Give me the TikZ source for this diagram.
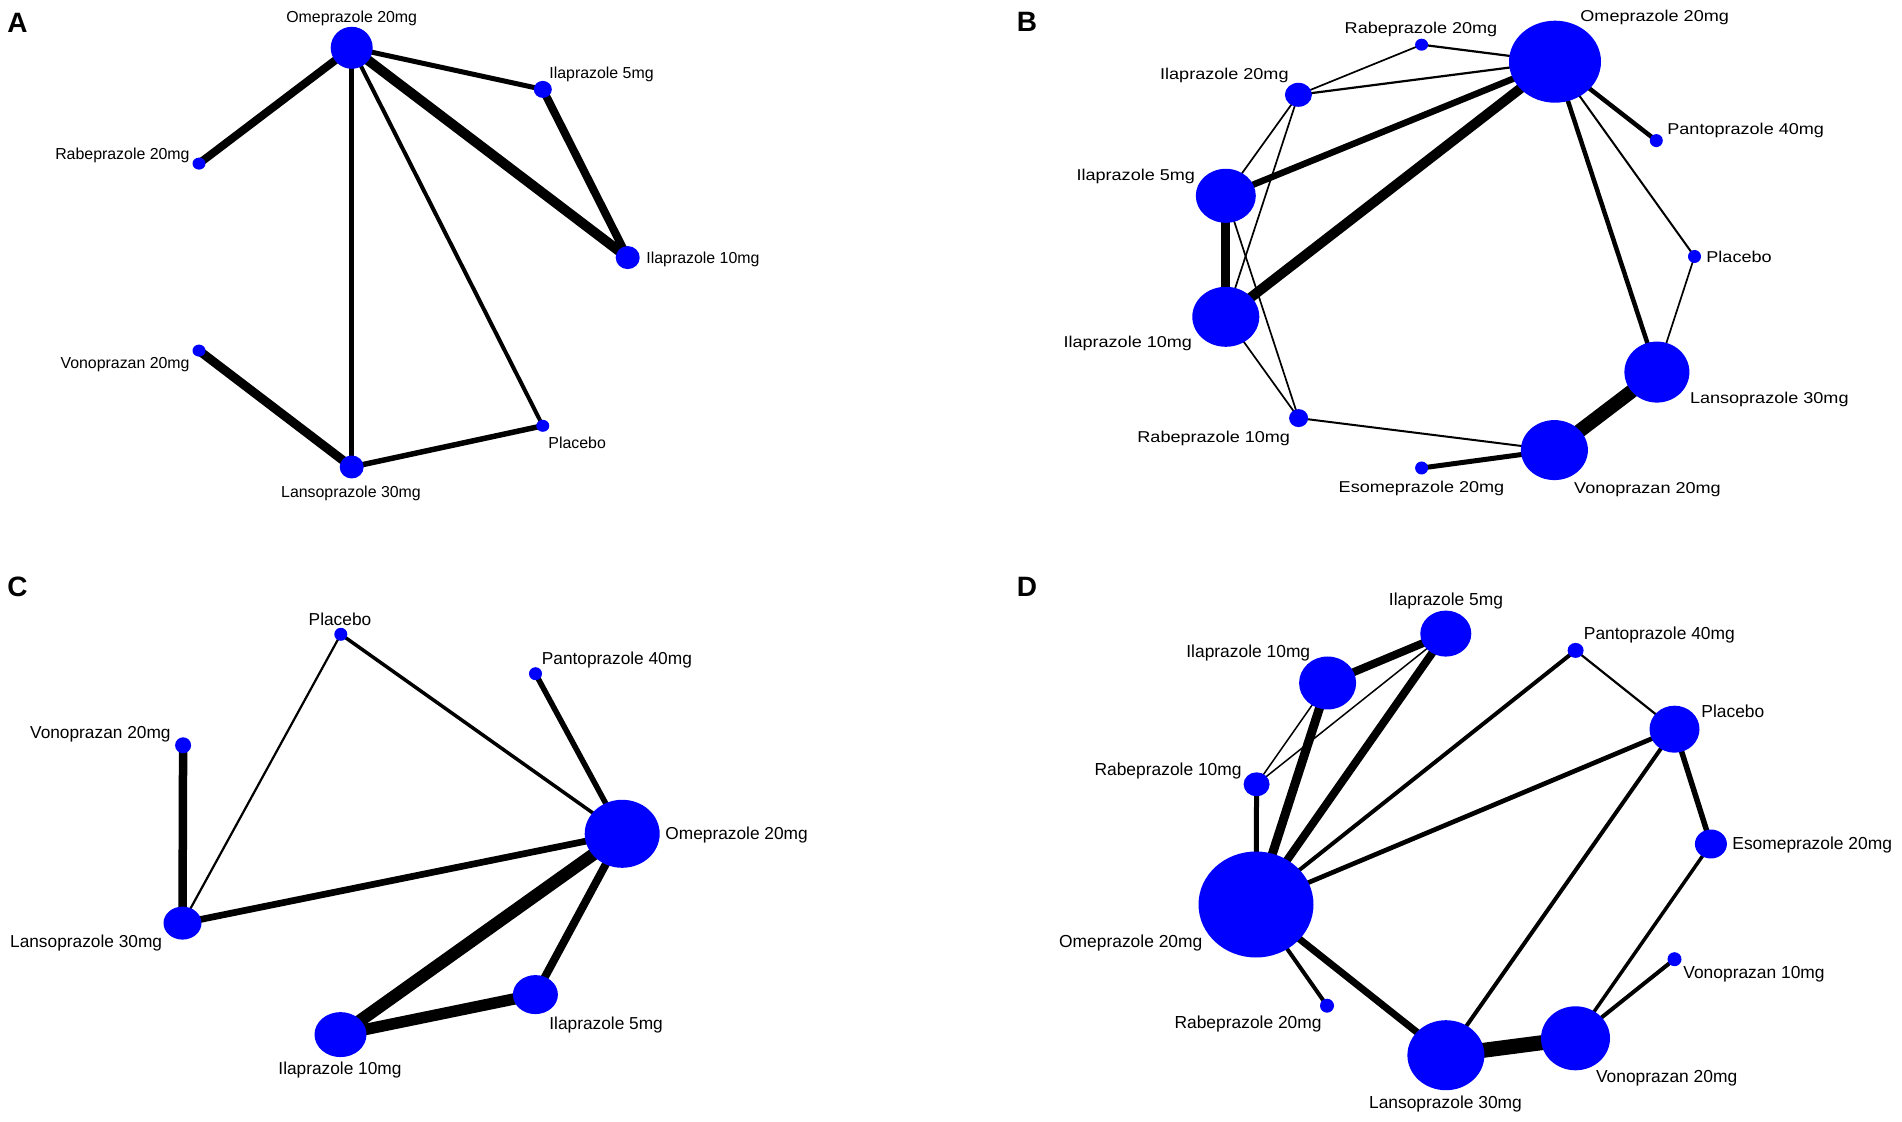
\documentclass[tikz,border=0pt]{standalone}
\usepackage{fontspec}
\setmainfont{Liberation Sans}
\newfontfamily\widesans[FakeStretch=1.15]{Liberation Sans}
\usetikzlibrary{shapes}
\usetikzlibrary{backgrounds}

\tikzset{
  trt/.style={ellipse, fill=blue, draw=none, inner sep=0pt},
  sz/.style 2 args={minimum width=#1*0.5pt, minimum height=#2*0.5pt},
  lbl/.style={inner sep=0pt},
  lblA/.style={lbl, font=\fontsize{7.95}{9}\selectfont},
  lblB/.style={lbl, font=\widesans\fontsize{7.85}{9}\selectfont},
  lblC/.style={lbl, font=\fontsize{8.65}{10}\selectfont},
  lblD/.style={lbl, font=\fontsize{8.7}{10}\selectfont},
  panel/.style={font=\fontsize{14}{16}\selectfont\bfseries, inner sep=0pt, anchor=west},
  lw/.style={line width=#1*0.5pt},
}

\begin{document}
\begin{tikzpicture}[x=0.5pt,y=0.5pt,yscale=-1,xscale=1]
\useasboundingbox (0,0) rectangle (1902,1122);

%%%%%%%%%% Panel A
\node[panel] (pA) at (7,23) {A};
% Treatments
\node[trt, sz={42}{42}] (aOme) at (351.7,47.8) {};
\node[trt, sz={18}{17}] (aIl5) at (542.8,89.4) {};
\node[trt, sz={24}{23}] (aIl10) at (627.7,257.6) {};
\node[trt, sz={13}{12}] (aRa20) at (199,163.6) {};
\node[trt, sz={13}{12}] (aVo20) at (199,350.6) {};
\node[trt, sz={24}{23}] (aLa30) at (351.7,467) {};
\node[trt, sz={13}{12}] (aPla) at (542.8,425.8) {};
% Text Node
\node[lblA] (aOmeL) at (351.7,18.6) {Omeprazole 20mg};
\node[lblA, anchor=west] (aIl5L) at (549,74) {Ilaprazole 5mg};
\node[lblA, anchor=west] (aIl10L) at (646,259) {Ilaprazole 10mg};
\node[lblA, anchor=east] (aRa20L) at (190,155) {Rabeprazole 20mg};
\node[lblA, anchor=east] (aVo20L) at (190,365) {Vonoprazan 20mg};
\node[lblA] (aLa30L) at (351,493) {Lansoprazole 30mg};
\node[lblA, anchor=west] (aPlaL) at (548,443) {Placebo};
% Comparisons
\begin{pgfonlayer}{background}
\draw[lw=8] (aOme.center) -- (aRa20.center);
\draw[lw=5] (aOme.center) -- (aIl5.center);
\draw[lw=10] (aOme.center) -- (aIl10.center);
\draw[lw=8] (aIl5.center) -- (aIl10.center);
\draw[lw=5] (aOme.center) -- (aLa30.center);
\draw[lw=4] (aOme.center) -- (aPla.center);
\draw[lw=9] (aVo20.center) -- (aLa30.center);
\draw[lw=5.5] (aLa30.center) -- (aPla.center);
\end{pgfonlayer}

%%%%%%%%%% Panel B
\node[panel] (pB) at (1016.5,22) {B};
% Treatments
\node[trt, sz={92}{82}] (bOme) at (1555,61.7) {};
\node[trt, sz={13}{12}] (bRa20) at (1421.6,44.7) {};
\node[trt, sz={27}{24}] (bIl20) at (1298.4,94.8) {};
\node[trt, sz={13}{13}] (bPan) at (1656.3,140.6) {};
\node[trt, sz={60}{54}] (bIl5) at (1225.8,195.8) {};
\node[trt, sz={13}{13}] (bPla) at (1694.5,256.5) {};
\node[trt, sz={67}{60}] (bIl10) at (1225.8,316.8) {};
\node[trt, sz={65}{61}] (bLa30) at (1656.9,372.1) {};
\node[trt, sz={19}{18}] (bRa10) at (1298.6,418.1) {};
\node[trt, sz={67}{60}] (bVo20) at (1554.4,450.1) {};
\node[trt, sz={13}{13}] (bEs20) at (1421.6,468) {};
% Text Node
\node[lblB, anchor=west] (bOmeL) at (1580,17.2) {Omeprazole 20mg};
\node[lblB] (bRa20L) at (1421,29.3) {Rabeprazole 20mg};
\node[lblB, anchor=east] (bIl20L) at (1289,75.8) {Ilaprazole 20mg};
\node[lblB, anchor=west] (bPanL) at (1667,130.6) {Pantoprazole 40mg};
\node[lblB, anchor=east] (bIl5L) at (1195.4,176) {Ilaprazole 5mg};
\node[lblB, anchor=west] (bPlaL) at (1706,257) {Placebo};
\node[lblB, anchor=east] (bIl10L) at (1192.4,343.5) {Ilaprazole 10mg};
\node[lblB, anchor=west] (bLa30L) at (1689.6,399) {Lansoprazole 30mg};
\node[lblB, anchor=east] (bRa10L) at (1290.4,438.3) {Rabeprazole 10mg};
\node[lblB, anchor=west] (bVo20L) at (1573.8,489.4) {Vonoprazan 20mg};
\node[lblB] (bEs20L) at (1421.5,488.4) {Esomeprazole 20mg};
% Comparisons
\begin{pgfonlayer}{background}
\draw[lw=2.2] (bRa20.center) -- (bOme.center);
\draw[lw=1.7] (bIl20.center) -- (bRa20.center);
\draw[lw=2.2] (bIl20.center) -- (bOme.center);
\draw[lw=1.7] (bIl20.center) -- (bIl5.center);
\draw[lw=1.7] (bIl20.center) -- (bIl10.center);
\draw[lw=1.7] (bIl5.center) -- (bRa10.center);
\draw[lw=1.7] (bIl10.center) -- (bRa10.center);
\draw[lw=6.5] (bIl5.center) -- (bOme.center);
\draw[lw=10] (bIl10.center) -- (bOme.center);
\draw[lw=9] (bIl5.center) -- (bIl10.center);
\draw[lw=4.5] (bOme.center) -- (bPan.center);
\draw[lw=4.5] (bOme.center) -- (bLa30.center);
\draw[lw=2] (bOme.center) -- (bPla.center);
\draw[lw=1.7] (bPla.center) -- (bLa30.center);
\draw[lw=14] (bLa30.center) -- (bVo20.center);
\draw[lw=5] (bVo20.center) -- (bEs20.center);
\draw[lw=2] (bRa10.center) -- (bVo20.center);
\end{pgfonlayer}

%%%%%%%%%% Panel C
\node[panel] (pC) at (7,587) {C};
% Treatments
\node[trt, sz={13}{13}] (cPla) at (340.8,634.3) {};
\node[trt, sz={13}{13}] (cPan) at (535.5,673.7) {};
\node[trt, sz={16}{16}] (cVo20) at (183.1,745.3) {};
\node[trt, sz={75}{68}] (cOme) at (622.2,833.8) {};
\node[trt, sz={38}{33}] (cLa30) at (182.5,923.1) {};
\node[trt, sz={45}{39}] (cIl5) at (535.4,994.6) {};
\node[trt, sz={52}{45}] (cIl10) at (340.5,1034.6) {};
% Text Node
\node[lblC] (cPlaL) at (340,619) {Placebo};
\node[lblC, anchor=west] (cPanL) at (541.5,660.5) {Pantoprazole 40mg};
\node[lblC, anchor=east] (cVo20L) at (171,734.5) {Vonoprazan 20mg};
\node[lblC, anchor=west] (cOmeL) at (665,835.4) {Omeprazole 20mg};
\node[lblC, anchor=east] (cLa30L) at (162.5,943) {Lansoprazole 30mg};
\node[lblC, anchor=west] (cIl5L) at (549,1025) {Ilaprazole 5mg};
\node[lblC] (cIl10L) at (340,1070) {Ilaprazole 10mg};
% Comparisons
\begin{pgfonlayer}{background}
\draw[lw=2.2] (cPla.center) -- (cLa30.center);
\draw[lw=3.5] (cPla.center) -- (cOme.center);
\draw[lw=5.5] (cPan.center) -- (cOme.center);
\draw[lw=8.5] (cVo20.center) -- (cLa30.center);
\draw[lw=6.7] (cLa30.center) -- (cOme.center);
\draw[lw=12.5] (cOme.center) -- (cIl10.center);
\draw[lw=8] (cOme.center) -- (cIl5.center);
\draw[lw=11.5] (cIl10.center) -- (cIl5.center);
\end{pgfonlayer}

%%%%%%%%%% Panel D
\node[panel] (pD) at (1016.5,587) {D};
% Treatments
\node[trt, sz={51}{46}] (dIl5) at (1445.8,633.6) {};
\node[trt, sz={16}{15}] (dPan) at (1575.6,650.4) {};
\node[trt, sz={57}{53}] (dIl10) at (1327.6,683) {};
\node[trt, sz={50}{47}] (dPla) at (1674.5,729.2) {};
\node[trt, sz={26}{24}] (dRa10) at (1256.6,784.3) {};
\node[trt, sz={32}{29}] (dEs20) at (1710.9,844) {};
\node[trt, sz={115}{106}] (dOme) at (1256,904.5) {};
\node[trt, sz={14}{14}] (dVo10) at (1674.5,959.2) {};
\node[trt, sz={14}{14}] (dRa20) at (1327,1005.7) {};
\node[trt, sz={69}{64}] (dVo20) at (1575.5,1038.3) {};
\node[trt, sz={77}{70}] (dLa30) at (1445.9,1055.2) {};
% Text Node
\node[lblD] (dIl5L) at (1446,601) {Ilaprazole 5mg};
\node[lblD, anchor=west] (dPanL) at (1583.5,635) {Pantoprazole 40mg};
\node[lblD, anchor=east] (dIl10L) at (1310.6,653.3) {Ilaprazole 10mg};
\node[lblD, anchor=west] (dPlaL) at (1701,711.3) {Placebo};
\node[lblD, anchor=east] (dRa10L) at (1242,771.4) {Rabeprazole 10mg};
\node[lblD, anchor=west] (dEs20L) at (1732,845.4) {Esomeprazole 20mg};
\node[lblD, anchor=east] (dOmeL) at (1202.7,942.7) {Omeprazole 20mg};
\node[lblD, anchor=west] (dVo10L) at (1683,974.2) {Vonoprazan 10mg};
\node[lblD, anchor=east] (dRa20L) at (1322,1024.3) {Rabeprazole 20mg};
\node[lblD, anchor=west] (dVo20L) at (1595.6,1078.7) {Vonoprazan 20mg};
\node[lblD] (dLa30L) at (1445.5,1104) {Lansoprazole 30mg};
% Comparisons
\begin{pgfonlayer}{background}
\draw[lw=8] (dIl5.center) -- (dIl10.center);
\draw[lw=1.5] (dIl5.center) -- (dRa10.center);
\draw[lw=1.5] (dIl10.center) -- (dRa10.center);
\draw[lw=9] (dIl10.center) -- (dOme.center);
\draw[lw=8] (dIl5.center) -- (dOme.center);
\draw[lw=5] (dRa10.center) -- (dOme.center);
\draw[lw=4] (dPan.center) -- (dOme.center);
\draw[lw=2.2] (dPan.center) -- (dPla.center);
\draw[lw=4.7] (dPla.center) -- (dOme.center);
\draw[lw=5.5] (dPla.center) -- (dEs20.center);
\draw[lw=4] (dPla.center) -- (dLa30.center);
\draw[lw=3.5] (dEs20.center) -- (dVo20.center);
\draw[lw=4] (dVo10.center) -- (dVo20.center);
\draw[lw=4] (dOme.center) -- (dRa20.center);
\draw[lw=7] (dOme.center) -- (dLa30.center);
\draw[lw=15] (dLa30.center) -- (dVo20.center);
\end{pgfonlayer}

\end{tikzpicture}
\end{document}
